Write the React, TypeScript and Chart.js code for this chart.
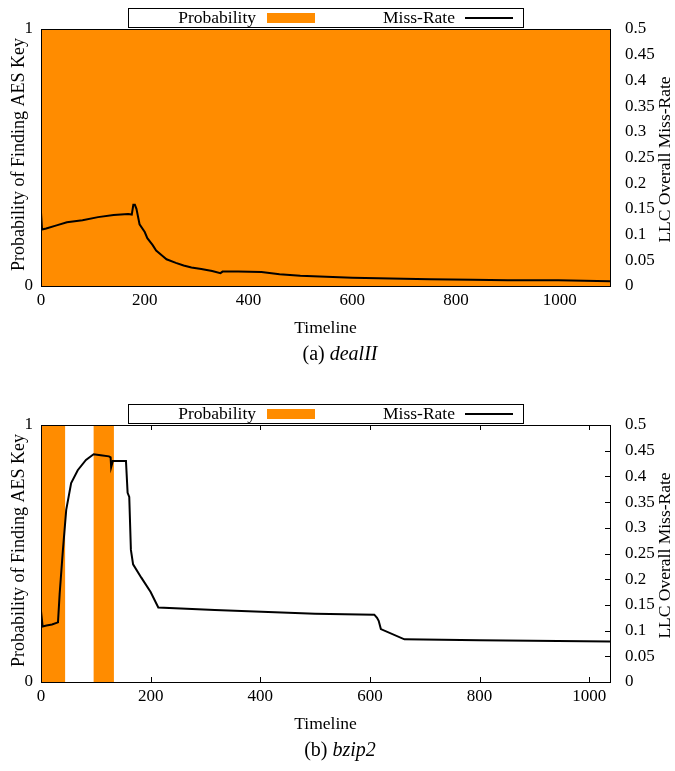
import React, { useEffect, useRef } from "react";
import { Chart, registerables } from "chart.js";

Chart.register(...registerables);

// ---------- data ----------
const xMaxA = 1097;
const xMaxB = 1038;
const xTickValues = [0, 200, 400, 600, 800, 1000];
const y2TickValues = [0, 0.05, 0.1, 0.15, 0.2, 0.25, 0.3, 0.35, 0.4, 0.45, 0.5];
const yTickValues = [0, 1];

const probTimeA = [0, 1097];
const probValA = [1, 1];

const probTimeB = [0, 44, 96, 133, 1038];
const probValB = [1, 0, 1, 0, 0];

const missTimeA = [0, 2, 10, 30, 50, 80, 110, 140, 168, 175, 178, 181, 184, 190, 200, 205, 215, 222, 235, 242, 260, 275, 290, 309, 330, 346, 350, 380, 425, 460, 500, 550, 600, 650, 699, 750, 832, 900, 997, 1097];
const missValA = [0.143, 0.11, 0.112, 0.118, 0.124, 0.128, 0.134, 0.138, 0.14, 0.139, 0.158, 0.158, 0.15, 0.12, 0.105, 0.093, 0.08, 0.069, 0.058, 0.052, 0.045, 0.04, 0.036, 0.033, 0.029, 0.025, 0.028, 0.028, 0.027, 0.023, 0.02, 0.018, 0.016, 0.015, 0.014, 0.013, 0.012, 0.011, 0.011, 0.009];

const missTimeB = [0, 3, 10, 20, 31, 34, 36, 40, 46, 55, 67, 82, 96, 109, 124, 127, 128, 131, 155, 158, 161, 164, 168, 183, 200, 214, 317, 500, 608, 613, 616, 620, 663, 800, 1038];
const missValB = [0.138, 0.108, 0.11, 0.112, 0.116, 0.171, 0.2, 0.257, 0.335, 0.387, 0.412, 0.432, 0.443, 0.441, 0.439, 0.437, 0.418, 0.43, 0.43, 0.368, 0.36, 0.257, 0.229, 0.203, 0.175, 0.145, 0.14, 0.133, 0.131, 0.125, 0.119, 0.103, 0.083, 0.081, 0.079];

const leftTitle = "Probability of Finding AES Key";
const rightTitle = "LLC Overall Miss-Rate";
const xTitle = "Timeline";
const legendLabels = ["Probability", "Miss-Rate"];

const ORANGE = "#FF8C00";
const FONT = "'Liberation Serif', 'Times New Roman', serif";

const framePlugin = {
  id: "frame",
  beforeDatasetsDraw(chart: any) {
    const { ctx, chartArea } = chart;
    const { right, top, bottom } = chartArea;
    ctx.save();
    ctx.strokeStyle = "#000";
    ctx.lineWidth = 1;
    ctx.beginPath();
    const xs = chart.scales.x;
    xs.ticks.forEach((t: any) => {
      if (t.value <= xs.min || t.value >= xs.max) return;
      const px = Math.round(xs.getPixelForValue(t.value)) + 0.5;
      ctx.moveTo(px, bottom);
      ctx.lineTo(px, bottom - 5);
      ctx.moveTo(px, top);
      ctx.lineTo(px, top + 5);
    });
    const ys = chart.scales.y2;
    ys.ticks.forEach((t: any) => {
      if (t.value <= ys.min || t.value >= ys.max) return;
      const py = Math.round(ys.getPixelForValue(t.value)) + 0.5;
      ctx.moveTo(right, py);
      ctx.lineTo(right - 5, py);
    });
    ctx.stroke();
    ctx.restore();
  },
  afterDatasetsDraw(chart: any) {
    const { ctx, chartArea } = chart;
    const { left, right, top, bottom } = chartArea;
    ctx.save();
    ctx.strokeStyle = "#000";
    ctx.lineWidth = 1;
    ctx.strokeRect(Math.round(left) + 0.5, Math.round(top) + 0.5, Math.round(right - left), Math.round(bottom - top));
    ctx.restore();
  },
  afterDraw(chart: any, _args: any, opts: any) {
    const { ctx, chartArea } = chart;
    const { left, right, top, bottom } = chartArea;
    const midY = (top + bottom) / 2;
    ctx.save();
    ctx.fillStyle = "#000";
    ctx.textBaseline = "middle";
    ctx.textAlign = "center";
    // left title
    ctx.font = `18px ${FONT}`;
    ctx.save();
    ctx.translate(19, midY - 3);
    ctx.rotate(-Math.PI / 2);
    ctx.fillText(leftTitle, 0, 0);
    ctx.restore();
    // right title
    ctx.font = `17.5px ${FONT}`;
    ctx.save();
    ctx.translate(665, midY + 2);
    ctx.rotate(-Math.PI / 2);
    ctx.fillText(rightTitle, 0, 0);
    ctx.restore();
    // x title
    ctx.fillText(xTitle, (left + right) / 2, 328);

    // legend
    ctx.fillStyle = "#fff";
    ctx.fillRect(128, 8, 395, 19);
    ctx.strokeStyle = "#000";
    ctx.lineWidth = 1;
    ctx.strokeRect(128.5, 8.5, 395, 19);
    ctx.fillStyle = "#000";
    ctx.textAlign = "right";
    ctx.fillText(legendLabels[0], 256, 18);
    ctx.fillStyle = ORANGE;
    ctx.fillRect(267, 13, 48, 10);
    ctx.fillStyle = "#000";
    ctx.fillText(legendLabels[1], 455, 18);
    ctx.lineWidth = 2;
    ctx.beginPath();
    ctx.moveTo(465, 18);
    ctx.lineTo(513, 18);
    ctx.stroke();

    // caption
    const capFont = 20;
    const a = opts.capPrefix as string;
    const b = opts.capName as string;
    ctx.font = `${capFont}px ${FONT}`;
    const wa = ctx.measureText(a).width;
    ctx.font = `italic ${capFont}px ${FONT}`;
    const wb = ctx.measureText(b).width;
    const x0 = 340 - (wa + wb) / 2;
    ctx.textAlign = "left";
    ctx.font = `${capFont}px ${FONT}`;
    ctx.fillText(a, x0, 355);
    ctx.font = `italic ${capFont}px ${FONT}`;
    ctx.fillText(b, x0 + wa, 355);
    ctx.restore();
  },
};

const fmt = (v: number) => String(Number(Number(v).toFixed(2)));

function makeConfig(
  probT: number[], probV: number[], missT: number[], missV: number[], xMax: number,
  capPrefix: string, capName: string
): any {
  const tickFont = { family: FONT, size: 17 };
  return {
    type: "line",
    data: {
      datasets: [
        {
          label: legendLabels[1],
          data: missT.map((t, i) => ({ x: t, y: missV[i] })),
          yAxisID: "y2",
          borderColor: "#000",
          borderWidth: 2,
          pointRadius: 0,
          tension: 0,
          fill: false,
          order: 0,
        },
        {
          label: legendLabels[0],
          data: probT.map((t, i) => ({ x: t, y: probV[i] })),
          yAxisID: "y",
          stepped: true,
          fill: "origin",
          backgroundColor: ORANGE,
          borderWidth: 0,
          borderColor: "rgba(0,0,0,0)",
          pointRadius: 0,
          order: 1,
        },
      ],
    },
    options: {
      animation: false,
      responsive: false,
      events: [],
      layout: { padding: { top: 29, bottom: 56, left: 0, right: 0 } },
      plugins: {
        legend: { display: false },
        tooltip: { enabled: false },
        frame: { capPrefix, capName },
      },
      scales: {
        x: {
          type: "linear",
          min: 0,
          max: xMax,
          grid: { display: false, drawTicks: false },
          border: { display: false },
          ticks: { font: tickFont, color: "#000", padding: 4, maxRotation: 0, autoSkip: false, callback: (v: number) => fmt(v) },
          afterBuildTicks: (s: any) => { s.ticks = xTickValues.map((v) => ({ value: v })); },
          afterFit: (s: any) => { s.height = 54; },
        },
        y: {
          position: "left",
          min: 0,
          max: 1,
          grid: { display: false, drawTicks: false },
          border: { display: false },
          ticks: { font: tickFont, color: "#000", padding: 8, callback: (v: number) => fmt(v) },
          afterBuildTicks: (s: any) => { s.ticks = yTickValues.map((v) => ({ value: v })); },
          afterFit: (s: any) => { s.width = 41; },
        },
        y2: {
          position: "right",
          min: 0,
          max: 0.5,
          grid: { display: false, drawTicks: false },
          border: { display: false },
          ticks: { font: tickFont, color: "#000", padding: 15, callback: (v: number) => fmt(v) },
          afterBuildTicks: (s: any) => { s.ticks = y2TickValues.map((v) => ({ value: v })); },
          afterFit: (s: any) => { s.width = 65; },
        },
      },
    },
    plugins: [framePlugin],
  };
}

function ChartBlock(props: { cfg: () => any; top: number }) {
  const ref = useRef<HTMLCanvasElement | null>(null);
  useEffect(() => {
    if (!ref.current) return;
    const chart = new Chart(ref.current, props.cfg());
    return () => chart.destroy();
  }, []);
  return (
    <canvas
      ref={ref}
      width={675}
      height={396}
      style={{ position: "absolute", left: 0, top: props.top, width: 675, height: 396 }}
    />
  );
}

export default function App() {
  return (
    <div style={{ position: "absolute", left: 0, top: 0, width: 675, height: 771, background: "#fff" }}>
      <ChartBlock top={0} cfg={() => makeConfig(probTimeA, probValA, missTimeA, missValA, xMaxA, "(a) ", "dealII")} />
      <ChartBlock top={396} cfg={() => makeConfig(probTimeB, probValB, missTimeB, missValB, xMaxB, "(b) ", "bzip2")} />
    </div>
  );
}
